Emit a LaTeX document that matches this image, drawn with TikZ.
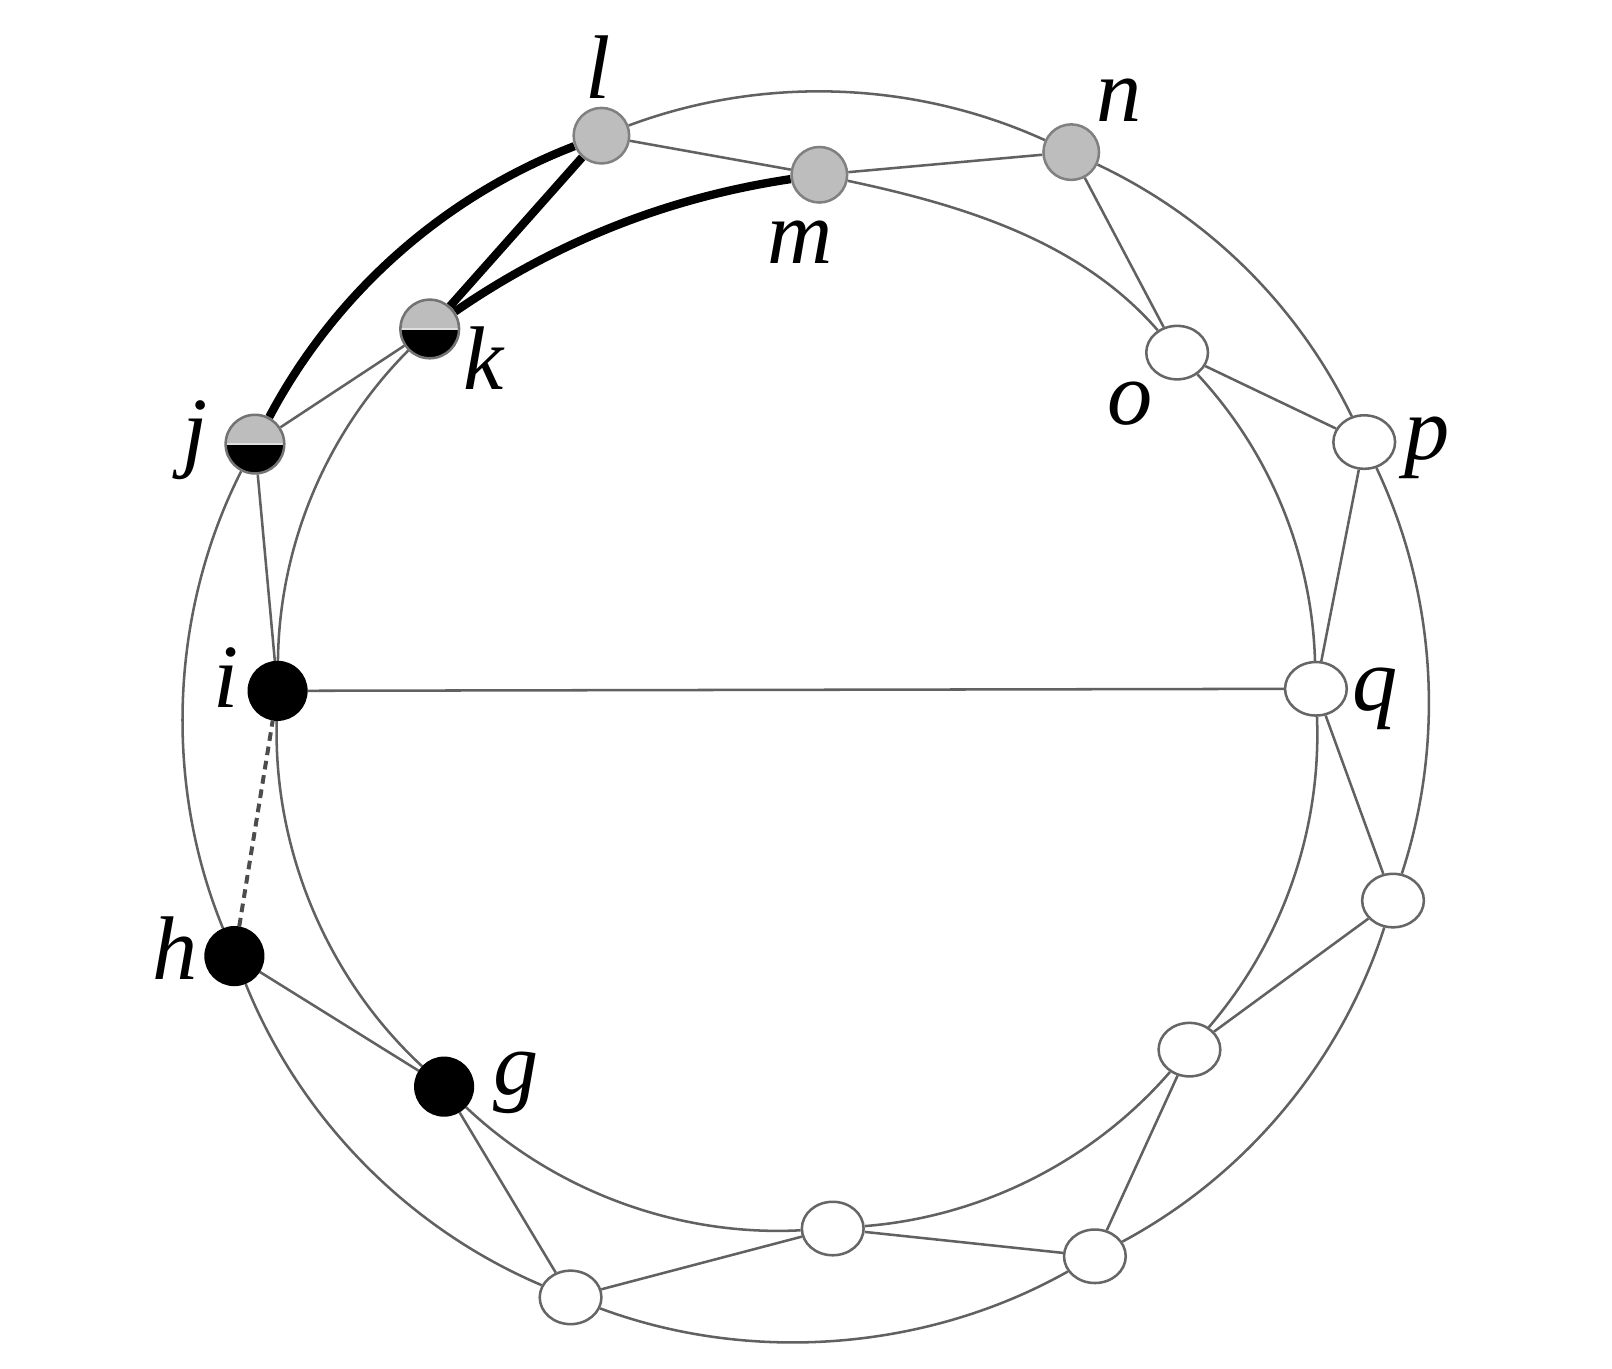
\documentclass[tikz,border=0pt]{standalone}
\usepackage{fontspec}
\setmainfont{Liberation Serif}
\usetikzlibrary{shapes.geometric,backgrounds}
\begin{document}
\begin{tikzpicture}[x=0.01cm,y=0.01cm,
  edge/.style={line width=0.7pt, draw=black!62},
  ring/.style={line width=0.7pt, draw=black!62, looseness=0.88},
  heavy/.style={line width=2.3pt, draw=black, looseness=0.88},
  dashedge/.style={line width=1.1pt, draw=black!70, dash pattern=on 2.4pt off 1.6pt},
  graynode/.style={circle, minimum size=0.54cm, inner sep=0pt, line width=0.7pt, draw=black!50, fill=gray!52},
  blacknode/.style={circle, minimum size=0.56cm, inner sep=0pt, line width=0.7pt, draw=black, fill=black},
  whitenode/.style={ellipse, minimum width=0.60cm, minimum height=0.52cm, inner sep=0pt, line width=0.7pt, draw=black!60, fill=white},
  halfnode/.style={circle, minimum size=0.57cm, inner sep=0pt, line width=0.7pt, draw=black!55, fill=gray!52,
    path picture={\fill[black] (path picture bounding box.west) rectangle (path picture bounding box.south east);
      \draw[gray!25, line width=0.6pt] (path picture bounding box.west) -- (path picture bounding box.east);}},
  lab/.style={anchor=base, inner sep=0pt, font=\fontsize{25}{30}\selectfont\itshape}
]
\useasboundingbox (0,0) rectangle (1568,-1331);

% nodes
\node[graynode]  (l) at (585,-132) {};
\node[graynode]  (m) at (797,-170) {};
\node[graynode]  (n) at (1042,-148) {};
\node[whitenode] (o) at (1145,-343) {};
\node[whitenode] (p) at (1327,-430) {};
\node[whitenode] (q) at (1280,-670) {};
\node[whitenode] (r) at (1355,-876) {};
\node[whitenode] (s) at (1157,-1021) {};
\node[whitenode] (t) at (1065,-1222) {};
\node[whitenode] (u) at (810,-1195) {};
\node[whitenode] (v) at (555,-1262) {};
\node[blacknode] (g) at (432,-1057) {};
\node[blacknode] (h) at (228,-930) {};
\node[blacknode] (i) at (270,-672) {};
\node[halfnode]  (j) at (248,-432) {};
\node[halfnode]  (k) at (418,-320) {};

% labels
\node[lab] (Ll) at (582,-96) {l};
\node[lab] (Lm) at (778,-256) {m};
\node[lab] (Ln) at (1089,-118) {n};
\node[lab] (Lo) at (1099,-413) {o};
\node[lab] (Lp) at (1388,-447) {p};
\node[lab] (Lq) at (1338,-691) {q};
\node[lab] (Lk) at (470,-379) {k};
\node[lab] (Lj) at (190,-448) {j};
\node[lab] (Li) at (220,-688) {i};
\node[lab] (Lh) at (170,-953) {h};
\node[lab] (Lg) at (502,-1065) {g};

\begin{pgfonlayer}{background}
% outer ring
\draw[ring] (l) to[bend left=22.5] (n);
\draw[ring] (n) to[bend left=19.4] (p);
\draw[ring] (p) to[bend left=21.7] (r);
\draw[ring] (r) to[bend left=22.0] (t);
\draw[ring] (t) to[bend left=24.9] (v);
\draw[ring] (v) to[bend left=22.5] (h);
\draw[ring] (h) to[bend left=24.6] (j);
\draw[heavy] (j) to[bend left=20.5] (l);
% inner ring
\draw[ring] (m) to[out=-12, in=131] (o);
\draw[ring] (o) to[bend left=20.6] (q);
\draw[ring] (q) to[bend left=21.5] (s);
\draw[ring] (s) to[bend left=22.3] (u);
\draw[ring] (u) to[bend left=23.2] (g);
\draw[ring] (g) to[bend left=24.4] (i);
\draw[ring] (i) to[bend left=22.1] (k);
\draw[heavy] (k) to[bend left=13] (m);
% chords
\draw[edge] (l) -- (m);
\draw[edge] (m) -- (n);
\draw[edge] (n) -- (o);
\draw[edge] (o) -- (p);
\draw[edge] (p) -- (q);
\draw[edge] (q) -- (r);
\draw[edge] (r) -- (s);
\draw[edge] (s) -- (t);
\draw[edge] (t) -- (u);
\draw[edge] (u) -- (v);
\draw[edge] (v) -- (g);
\draw[edge] (g) -- (h);
\draw[dashedge] (h) -- (i);
\draw[edge] (i) -- (j);
\draw[edge] (j) -- (k);
\draw[heavy] (k) -- (l);
\draw[edge] (i) -- (q);
\end{pgfonlayer}
\end{tikzpicture}
\end{document}
